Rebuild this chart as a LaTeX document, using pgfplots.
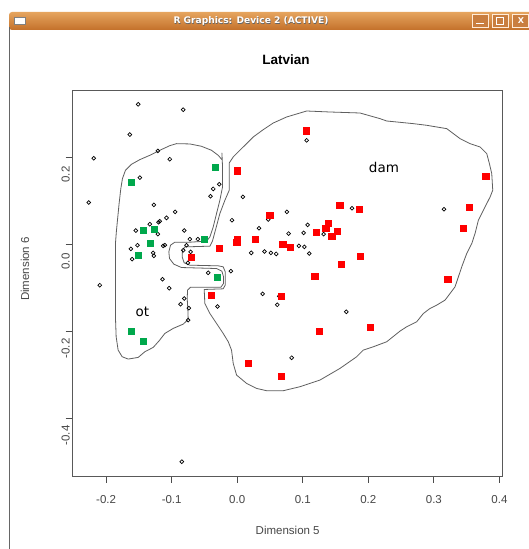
\documentclass[border=0pt]{standalone}
\usepackage{fontspec}
\setmainfont{Liberation Sans}
\newfontfamily\dejavu{DejaVu Sans}
\usepackage{pgfplots}
\pgfplotsset{compat=1.18}
\definecolor{rred}{RGB}{255,0,0}
\definecolor{rgreen}{RGB}{0,168,76}
\definecolor{tbtop}{RGB}{230,165,95}
\definecolor{tbbot}{RGB}{195,112,42}
\definecolor{contour}{RGB}{95,95,95}
\begin{document}
\begin{tikzpicture}
\useasboundingbox (0pt,0pt) rectangle (529pt,549pt);
\fill[white] (0pt,0pt) rectangle (529pt,549pt);
% window frame
\shade[top color=tbtop, bottom color=tbbot, rounded corners=3pt] (9pt,519pt) rectangle (535pt,537pt);
\draw[black!60, line width=1.3pt] (9.3pt,0pt) -- (9.3pt,522pt);
\fill[white, draw=black!50, line width=0.6pt] (14pt,525pt) rectangle (25pt,532pt);
\node[font=\dejavu\bfseries\fontsize{9.1}{10}\selectfont, text=black!60] at (251.5pt,527.5pt) {R Graphics: Device 2 (ACTIVE)};
\node[font=\dejavu\bfseries\fontsize{9.1}{10}\selectfont, text=white] at (251pt,528pt) {R Graphics: Device 2 (ACTIVE)};
\foreach \bx in {472,492,512}{
  \draw[white!85!orange, line width=0.6pt, fill=tbbot!90!white] (\bx pt,522pt) rectangle (\bx pt+16pt,535pt);
}
\draw[white, line width=1pt] (476pt,525.5pt) -- (484pt,525.5pt);
\draw[white, line width=0.8pt] (496.5pt,525pt) rectangle (503.5pt,531.5pt);
\node[font=\dejavu\bfseries\fontsize{8}{9}\selectfont, text=white] at (521pt,528.5pt) {X};
\begin{axis}[
  at={(72.7pt,73pt)}, anchor=south west,
  scale only axis, width=430pt, height=386pt,
  xmin=-0.251, xmax=0.405, ymin=-0.5325, ymax=0.3555,
  axis line style={black!65, line width=0.8pt},
  xtick={-0.2,-0.1,0,0.1,0.2,0.3,0.4},
  ytick={-0.4,-0.2,0,0.2},
  tick pos=left, tick align=outside, major tick length=7pt,
  tick style={black!70, line width=0.8pt},
  /pgf/number format/assume math mode=true,
  /pgf/number format/fixed,
  /pgf/number format/fixed zerofill,
  /pgf/number format/precision=1,
  ticklabel style={font=\fontsize{11.5}{13}\selectfont, text=black!72},
  xticklabel style={anchor=center, yshift=-17pt},
  yticklabel style={rotate=90, anchor=center, xshift=-17pt},
  clip=false,
]
% contour ot
\addplot[contour, line width=0.8pt, mark=none] coordinates {
(-0.0234,0.2107) (-0.0229,0.1953) (-0.0224,0.1785) (-0.0224,0.1325) (-0.0265,0.1019)
(-0.0316,0.0712) (-0.0366,0.0406) (-0.0417,0.0176) (-0.0468,0.0077) (-0.0723,0.0054)
(-0.0952,0.0054) (-0.1018,-0.0015) (-0.1043,-0.0169) (-0.1033,-0.0322) (-0.0967,-0.0452)
(-0.0850,-0.0529) (-0.0316,-0.0552) (-0.0234,-0.0613) (-0.0209,-0.0743) (-0.0209,-0.0896)
(-0.0249,-0.0981) (-0.0712,-0.0981) (-0.0758,-0.1049) (-0.0763,-0.1241) (-0.0753,-0.1509)
(-0.0748,-0.1724) (-0.0824,-0.1831) (-0.0977,-0.1930) (-0.1104,-0.2045) (-0.1191,-0.2214)
(-0.1282,-0.2367) (-0.1410,-0.2467) (-0.1511,-0.2597) (-0.1664,-0.2635) (-0.1756,-0.2581)
(-0.1817,-0.2428) (-0.1847,-0.2122) (-0.1858,-0.1662) (-0.1858,-0.1049) (-0.1858,-0.0437)
(-0.1858,0.0023) (-0.1842,0.0329) (-0.1822,0.0636) (-0.1802,0.0942) (-0.1776,0.1287)
(-0.1751,0.1517) (-0.1705,0.1708) (-0.1613,0.1846) (-0.1486,0.1953) (-0.1333,0.2053)
(-0.1181,0.2168) (-0.1028,0.2275) (-0.0926,0.2321) (-0.0723,0.2314) (-0.0545,0.2260)
(-0.0392,0.2168) (-0.0290,0.2053) (-0.0234,0.1953)
};
% contour dam
\addplot[contour, line width=0.8pt, mark=none] coordinates {
(-0.0799,-0.0054) (-0.0417,-0.0038) (-0.0377,0.0084) (-0.0326,0.0368) (-0.0265,0.0712)
(-0.0188,0.1019) (-0.0122,0.1249) (-0.0122,0.1877) (-0.0061,0.2015) (0.0015,0.2130)
(0.0117,0.2283) (0.0244,0.2474) (0.0397,0.2643) (0.0550,0.2796) (0.0753,0.2934)
(0.1059,0.3072) (0.1415,0.3049) (0.1873,0.3026) (0.2178,0.2896) (0.2280,0.2842)
(0.2687,0.2781) (0.2891,0.2743) (0.3196,0.2666) (0.3399,0.2436) (0.3552,0.2321)
(0.3705,0.2244) (0.3807,0.2091) (0.3847,0.1861) (0.3883,0.1632) (0.3898,0.1249)
(0.3858,0.1095) (0.3781,0.0866) (0.3679,0.0559) (0.3628,0.0253) (0.3578,0.0023)
(0.3501,-0.0207) (0.3425,-0.0513) (0.3374,-0.0743) (0.3323,-0.0973) (0.3247,-0.1126)
(0.3170,-0.1279) (0.3043,-0.1394) (0.2941,-0.1471) (0.2840,-0.1586) (0.2738,-0.1777)
(0.2585,-0.1892) (0.2483,-0.1992) (0.2407,-0.2084) (0.2280,-0.2237) (0.2076,-0.2352)
(0.1924,-0.2428) (0.1822,-0.2582) (0.1567,-0.2850) (0.1262,-0.3118) (0.0957,-0.3271)
(0.0702,-0.3363) (0.0448,-0.3363) (0.0295,-0.3310) (0.0142,-0.3194) (-0.0010,-0.3003)
(-0.0061,-0.2735) (-0.0087,-0.2428) (-0.0137,-0.2237) (-0.0214,-0.2045) (-0.0316,-0.1815)
(-0.0417,-0.1586) (-0.0494,-0.1356) (-0.0504,-0.1034) (-0.0214,-0.1019) (-0.0183,-0.0934)
(-0.0183,-0.0628) (-0.0214,-0.0513) (-0.0290,-0.0490) (-0.0723,-0.0475) (-0.0809,-0.0421)
(-0.0840,-0.0284) (-0.0835,-0.0130) (-0.0799,-0.0054)
};
% unclassified points
\addplot[only marks, mark=o, mark size=1.9pt, mark options={line width=0.7pt, draw=black}] coordinates {
(-0.1511,0.3226) (-0.0824,0.3103) (-0.1639,0.2529) (-0.2188,0.1985) (-0.1211,0.2153)
(-0.1028,0.1962) (-0.1486,0.1540) (-0.2265,0.0966) (-0.0366,0.1280) (-0.0275,0.1387)
(-0.0407,0.1111) (-0.1272,0.0912) (-0.0947,0.0751) (-0.1079,0.0613) (-0.1181,0.0536)
(-0.1201,0.0513) (-0.1333,0.0467) (-0.1211,0.0238) (-0.1547,0.0322) (-0.0809,0.0322)
(-0.0723,0.0123) (-0.0601,0.0123) (-0.1522,-0.0015) (-0.1623,-0.0100) (-0.1603,-0.0337)
(-0.1282,-0.0192) (-0.1272,-0.0261) (-0.1130,-0.0031) (-0.1104,-0.0015) (-0.0774,-0.0015)
(-0.0824,-0.0130) (-0.0712,-0.0169) (-0.0753,-0.0421) (-0.0443,-0.0651) (-0.0097,-0.0613)
(-0.1140,-0.0797) (-0.1038,-0.1004) (-0.2097,-0.0935) (-0.0809,-0.1241) (-0.0865,-0.1372)
(-0.0738,-0.1464) (-0.0748,-0.1739) (-0.0300,-0.1425) (-0.0845,-0.4996) (0.1059,0.2398)
(0.0087,0.1096) (-0.0081,0.0559) (0.0331,0.0375) (0.0473,0.0575) (0.0758,0.0751)
(0.0784,0.0253) (0.1074,0.0452) (0.1013,0.0268) (0.1318,0.0238) (0.0214,-0.0192)
(0.0417,-0.0161) (0.0514,-0.0192) (0.0595,-0.0215) (0.0941,-0.0031) (0.1023,-0.0054)
(0.1099,-0.0207) (0.0387,-0.1134) (0.0641,-0.1188) (0.0611,-0.1387) (0.1664,-0.1548)
(0.0830,-0.2605) (0.1751,0.0835) (0.3155,0.0812)
};
% dam
\addplot[only marks, mark=square*, mark size=3.1pt, mark options={fill=rred, draw=rred, line width=0pt}] coordinates {
(0.1053,0.2613) (0.0005,0.1693) (0.3796,0.1563) (0.1567,0.0897) (0.1868,0.0812)
(0.3547,0.0851) (0.0499,0.0674) (0.3455,0.0368) (0.1394,0.0483) (0.1354,0.0375)
(0.1206,0.0284) (0.1527,0.0291) (0.1445,0.0176) (0.0280,0.0115) (0.0000,0.0115)
(-0.0005,0.0040) (-0.0265,-0.0100) (0.0697,-0.0008) (0.0814,-0.0061) (-0.0702,-0.0291)
(0.1883,-0.0268) (0.1593,-0.0460) (0.1186,-0.0743) (0.3216,-0.0805) (-0.0397,-0.1172)
(0.0672,-0.1203) (0.2031,-0.1900) (0.1257,-0.2000) (0.0173,-0.2743) (0.0672,-0.3034)
};
% ot
\addplot[only marks, mark=square*, mark size=3.1pt, mark options={fill=rgreen, draw=rgreen, line width=0pt}] coordinates {
(-0.0336,0.1778) (-0.1613,0.1418) (-0.1425,0.0314) (-0.1257,0.0337) (-0.1323,0.0023)
(-0.1511,-0.0253) (-0.0504,0.0115) (-0.0295,-0.0759) (-0.1613,-0.2000) (-0.1425,-0.2230)
};
\node[font=\dejavu\fontsize{13.5}{15}\selectfont] at (axis cs:0.2239,0.177) {dam};
\node[font=\dejavu\fontsize{13.5}{15}\selectfont] at (axis cs:-0.1445,-0.1548) {ot};
\end{axis}
\node[font=\bfseries\fontsize{13.5}{16}\selectfont] at (286pt,489pt) {Latvian};
\node[font=\fontsize{11.5}{13}\selectfont, text=black!72] at (287.7pt,19pt) {Dimension 5};
\node[font=\fontsize{11.5}{13}\selectfont, text=black!72, rotate=90] at (25pt,280pt) {Dimension 6};
\end{tikzpicture}
\end{document}
